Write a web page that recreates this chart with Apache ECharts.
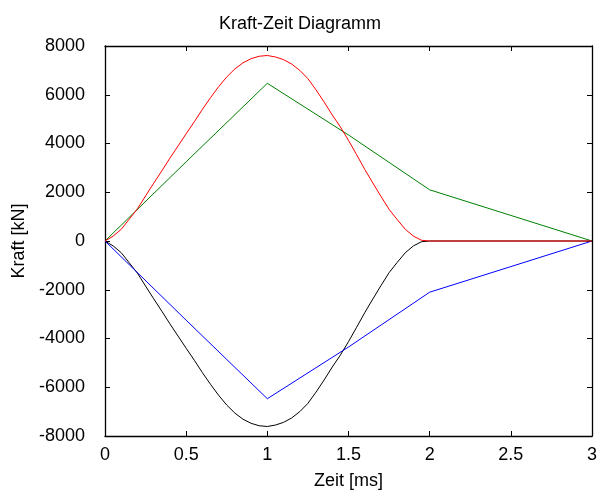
<!DOCTYPE html>
<html>
<head>
<meta charset="utf-8">
<script src="https://cdn.jsdelivr.net/npm/echarts@6/dist/echarts.min.js"></script>
<style>html,body{margin:0;padding:0;background:#fff}#c{width:600px;height:495px}</style>
</head>
<body>
<div id="c"></div>
<script>
// Data
var xTicks = [0, 0.5, 1, 1.5, 2, 2.5, 3];
var yTicks = [-8000, -6000, -4000, -2000, 0, 2000, 4000, 6000, 8000];

var curveTime = [0, 0.05, 0.1, 0.15, 0.2, 0.25, 0.3, 0.35, 0.4, 0.45, 0.5, 0.55, 0.6, 0.65, 0.7, 0.75, 0.8, 0.85, 0.9, 0.95,
                 1.0, 1.05, 1.1, 1.15, 1.2, 1.25, 1.3, 1.35, 1.4, 1.45, 1.5, 1.55, 1.6, 1.65, 1.7, 1.75, 1.8, 1.85, 1.9, 1.95, 2.0, 3];
var redValues = [0, 200, 480, 900, 1320, 1850, 2370, 2880, 3400, 3900, 4400, 4890, 5400, 5880, 6330, 6730, 7060, 7310, 7480, 7580,
                 7610, 7550, 7440, 7260, 7000, 6660, 6200, 5700, 5170, 4680, 4130, 3540, 2940, 2380, 1830, 1300, 880, 480, 200, 30, 0, 0];
var blackValues = [0, -200, -480, -900, -1320, -1850, -2370, -2880, -3400, -3900, -4400, -4890, -5400, -5880, -6330, -6730, -7060, -7310, -7480, -7580,
                   -7610, -7550, -7440, -7260, -7000, -6660, -6200, -5700, -5170, -4680, -4130, -3540, -2940, -2380, -1830, -1300, -880, -480, -200, -30, 0, 0];

var lineTime = [0, 0.5, 1, 1.5, 2, 2.5, 3];
var greenValues = [0, 3250, 6470, 4350, 2100, 1050, 0];
var blueValues = [0, -3250, -6470, -4350, -2100, -1050, 0];

function pairs(xs, ys) { return xs.map(function (x, i) { return [x, ys[i]]; }); }

var FONT = "'Liberation Sans', Arial, sans-serif";
var chart = echarts.init(document.getElementById('c'));

function xAx(pos, show) {
  return {
    type: 'value', position: pos, min: xTicks[0], max: xTicks[xTicks.length - 1], interval: 0.5,
    axisLine: { show: true, onZero: false, lineStyle: { color: '#000', width: 1.3 } },
    axisTick: { show: true, inside: true, length: 5, lineStyle: { color: '#000' } },
    axisLabel: { show: show, color: '#000', fontSize: 18, fontFamily: FONT, margin: 10,
      formatter: function (v) { return String(v); } },
    splitLine: { show: false },
    name: show ? 'Zeit [ms]' : '', nameLocation: 'middle', nameGap: 36,
    nameTextStyle: { color: '#000', fontSize: 18, fontFamily: FONT }
  };
}
function yAx(pos, show) {
  return {
    type: 'value', position: pos, min: yTicks[0], max: yTicks[yTicks.length - 1], interval: 2000,
    axisLine: { show: true, onZero: false, lineStyle: { color: '#000', width: 1.3 } },
    axisTick: { show: true, inside: true, length: 5, lineStyle: { color: '#000' } },
    axisLabel: { show: show, color: '#000', fontSize: 18, fontFamily: FONT, margin: 20,
      formatter: function (v) { return String(v); } },
    splitLine: { show: false },
    name: show ? 'Kraft [kN]' : '', nameLocation: 'middle', nameGap: 66,
    nameTextStyle: { color: '#000', fontSize: 18, fontFamily: FONT }
  };
}

function ser(name, data, color) {
  return {
    name: name, type: 'line', data: data, showSymbol: false, symbol: 'none',
    smooth: false,
    lineStyle: { color: color, width: 1 }, itemStyle: { color: color },
    xAxisIndex: 0, yAxisIndex: 0, animation: false
  };
}

chart.setOption({
  animation: false,
  backgroundColor: '#fff',
  title: {
    text: 'Kraft-Zeit Diagramm', left: 'center', top: 10,
    textStyle: { color: '#000', fontSize: 18, fontWeight: 'normal', fontFamily: FONT }
  },
  grid: { left: 105, right: 3, top: 46, bottom: 58, containLabel: false },
  xAxis: [xAx('bottom', true), xAx('top', false)],
  yAxis: [yAx('left', true), yAx('right', false)],
  series: [
    ser('black', pairs(curveTime, blackValues), '#000000'),
    ser('blue', pairs(lineTime, blueValues), '#0000ff'),
    ser('green', pairs(lineTime, greenValues), '#008000'),
    ser('red', pairs(curveTime, redValues), '#ff0000')
  ]
});
</script>
</body>
</html>
